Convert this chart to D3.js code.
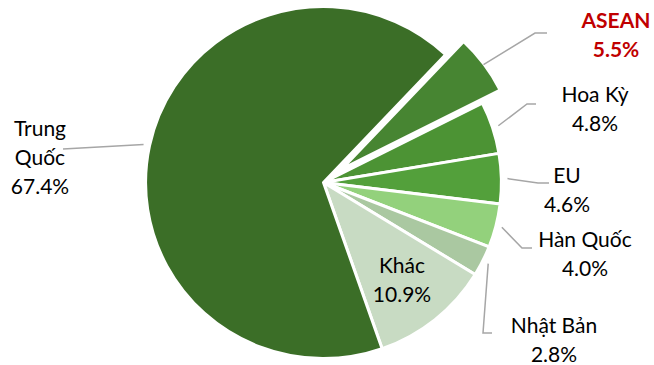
<!DOCTYPE html>
<html>
<head>
<meta charset="utf-8">
<script src="https://cdn.jsdelivr.net/npm/d3@7"></script>
<style>
  html, body { margin: 0; padding: 0; background: #fff; }
  svg { display: block; }
  text { font-family: Lato, "Liberation Sans", sans-serif; font-size: 21px; fill: #000; }
</style>
</head>
<body>
<svg id="chart" width="654" height="365"></svg>
<script>
// Shares by partner (percent)
const categories = ["ASEAN", "Hoa Kỳ", "EU", "Hàn Quốc", "Nhật Bản", "Khác", "Trung Quốc"];
const shares = [5.5, 4.8, 4.6, 4.0, 2.8, 10.9, 67.4];
const valueLabels = ["5.5%", "4.8%", "4.6%", "4.0%", "2.8%", "10.9%", "67.4%"];
const nameLines = [["ASEAN"], ["Hoa Kỳ"], ["EU"], ["Hàn Quốc"], ["Nhật Bản"], ["Khác"], ["Trung", "Quốc"]];

const colors = ["#478532", "#4c9334", "#53a03b", "#93d17c", "#aac8a1", "#c8dbc3", "#3b6e27"];

// Label placement: text centre x, first baseline y, leader elbow and end
const labelLayout = [
  { x: 616, y: 28, elbow: [535, 33], end: [547, 33], emphasis: true },
  { x: 595, y: 102, elbow: [527, 104], end: [536, 104] },
  { x: 567, y: 183, elbow: [538, 183], end: [549, 183] },
  { x: 585, y: 247, elbow: [522, 248], end: [532, 248] },
  { x: 554, y: 333, elbow: [483, 333], end: [492, 333] },
  { x: 402, y: 273, inside: true },
  { x: 40, y: 136, elbow: null, end: [63, 149] }
];

const cx = 323.5, cy = 182.5, r = 176;
const sx = 1.011;            // slight horizontal stretch of the pie
const explode = 22;
const startAngle = 43.4 * Math.PI / 180;
const lineHeight = 29;

const svg = d3.select("#chart");
const g = svg.append("g").attr("transform", `translate(${cx},${cy}) scale(${sx},1)`);

const pie = d3.pie().sort(null).value(d => d)
  .startAngle(startAngle).endAngle(startAngle + 2 * Math.PI);
const arcs = pie(shares);

const arc = d3.arc().innerRadius(0).outerRadius(r);
const leaderArc = d3.arc().innerRadius(r + 6).outerRadius(r + 6);

function offset(d, i) {
  if (i !== 0) return [0, 0];
  const mid = (d.startAngle + d.endAngle) / 2;
  return [Math.sin(mid) * explode, -Math.cos(mid) * explode];
}

g.selectAll("path.slice")
  .data(arcs)
  .join("path")
  .attr("class", "slice")
  .attr("d", arc)
  .attr("transform", (d, i) => { const o = offset(d, i); return `translate(${o[0]},${o[1]})`; })
  .attr("fill", (d, i) => colors[i])
  .attr("stroke", "#fff")
  .attr("stroke-width", 3)
  .attr("stroke-linejoin", "round");

// Leader lines
const lines = svg.append("g");
arcs.forEach((d, i) => {
  const L = labelLayout[i];
  if (L.inside) return;
  const o = offset(d, i);
  const c = leaderArc.centroid(d);
  const pts = [[cx + (c[0] + o[0] * 0.7) * sx, cy + c[1] + o[1] * 0.7]];
  if (L.elbow) pts.push(L.elbow);
  pts.push(L.end);
  lines.append("path")
    .attr("d", d3.line()(pts))
    .attr("fill", "none")
    .attr("stroke", "#a6a6a6")
    .attr("stroke-width", 1.5);
});

// Labels
const labels = svg.append("g");
arcs.forEach((d, i) => {
  const L = labelLayout[i];
  const t = labels.append("text")
    .attr("text-anchor", "middle")
    .attr("x", L.x).attr("y", L.y);
  if (L.emphasis) t.style("font-weight", "bold").style("fill", "#c00000");
  const linesText = nameLines[i].concat([valueLabels[i]]);
  linesText.forEach((s, k) => {
    t.append("tspan").attr("x", L.x).attr("y", L.y + k * lineHeight).text(s);
  });
});
</script>
</body>
</html>
